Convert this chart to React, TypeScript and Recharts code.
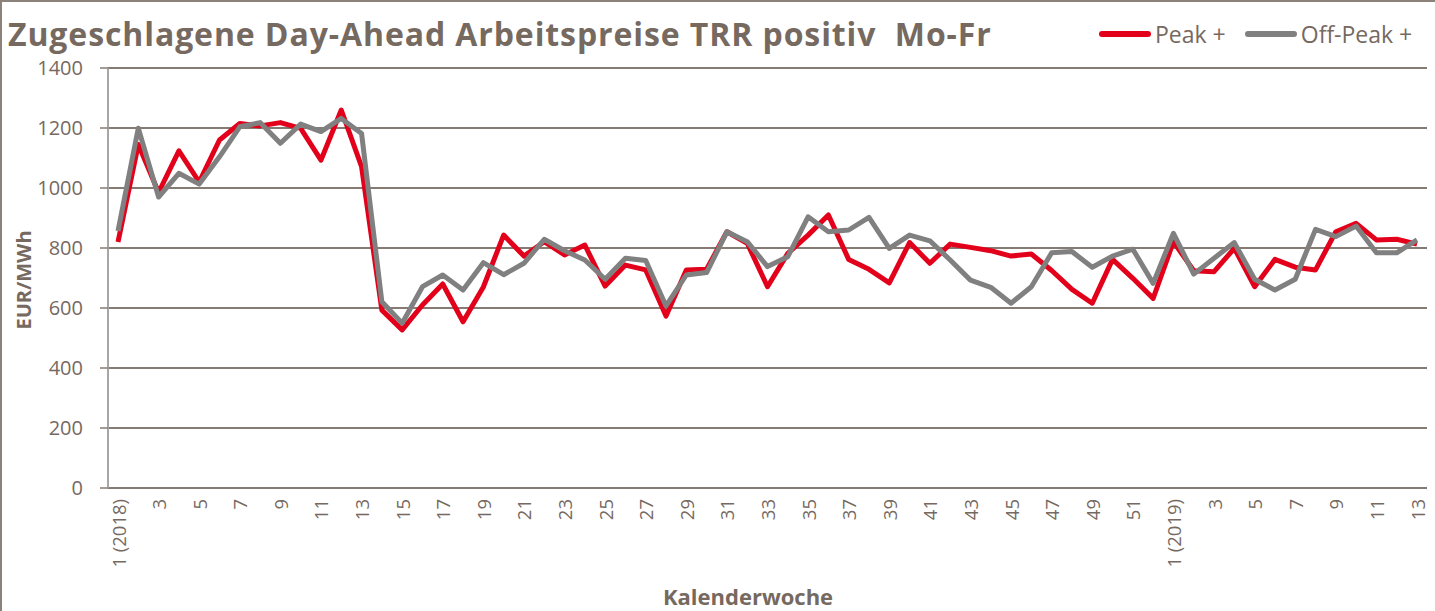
import React from "react";
import { LineChart, Line, XAxis, YAxis, CartesianGrid } from "recharts";

// Kalenderwochen 2018 / 2019
const WEEKS = [
  "1 (2018)", "2", "3", "4", "5", "6", "7", "8", "9", "10",
  "11", "12", "13", "14", "15", "16", "17", "18", "19", "20",
  "21", "22", "23", "24", "25", "26", "27", "28", "29", "30",
  "31", "32", "33", "34", "35", "36", "37", "38", "39", "40",
  "41", "42", "43", "44", "45", "46", "47", "48", "49", "50",
  "51", "52", "1 (2019)", "2", "3", "4", "5", "6", "7", "8",
  "9", "10", "11", "12", "13",
];

const PEAK = [
  820, 1145, 985, 1124, 1020, 1160, 1215, 1207, 1218, 1199,
  1093, 1260, 1071, 593, 527, 610, 680, 554, 670, 843,
  773, 821, 777, 810, 673, 743, 727, 573, 727, 729,
  854, 816, 671, 782, 843, 910, 762, 729, 684, 818,
  749, 813, 802, 791, 773, 780, 725, 662, 616, 762,
  699, 632, 821, 724, 721, 799, 671, 762, 736, 727,
  854, 882, 827, 829, 813,
];

const OFF_PEAK = [
  857, 1199, 970, 1049, 1013, 1104, 1204, 1218, 1149, 1213,
  1188, 1232, 1182, 621, 549, 671, 710, 660, 751, 711,
  749, 829, 791, 760, 696, 766, 758, 607, 710, 718,
  854, 821, 738, 771, 904, 854, 860, 902, 799, 843,
  824, 760, 693, 669, 616, 671, 784, 788, 736, 773,
  796, 682, 849, 713, 766, 818, 696, 660, 696, 862,
  838, 873, 784, 784, 827,
];

const Y_TICKS = [0, 200, 400, 600, 800, 1000, 1200, 1400];

const TEXT = "#76695f";
const GRID = "#857b73";
const RED = "#e2001a";
const GRAY = "#808080";
const FONT = "'Open Sans', sans-serif";

const data = WEEKS.map((w, i) => ({ week: w, peak: PEAK[i], offPeak: OFF_PEAK[i] }));

const XTick = (props: any) => {
  const { x, payload } = props;
  const y = 499;
  return (
    <text
      x={x}
      y={y}
      transform={`rotate(-90 ${x} ${y})`}
      textAnchor="end"
      dominantBaseline="central"
      fill={TEXT}
      fontSize={18.5}
      fontFamily={FONT}
    >
      {payload.value}
    </text>
  );
};

const LegendItem = ({ color, label, gap }: { color: string; label: string; gap: number }) => (
  <div style={{ display: "flex", alignItems: "center", marginLeft: gap }}>
    <div style={{ width: 52, height: 6, borderRadius: 3, background: color, marginRight: 4 }} />
    <span>{label}</span>
  </div>
);

export default function App() {
  return (
    <div
      style={{
        position: "absolute",
        left: 0,
        top: 0,
        width: 1435,
        height: 611,
        boxSizing: "border-box",
        borderTop: "2px solid #8c8279",
        borderLeft: "2px solid #8c8279",
        background: "#fff",
        fontFamily: FONT,
        color: TEXT,
        overflow: "hidden",
      }}
    >
      <LineChart
        width={1435}
        height={611}
        data={data}
        margin={{ top: 68, right: 8, left: 0, bottom: 0 }}
        style={{ position: "absolute", left: -2, top: -2 }}
      >
        <CartesianGrid vertical={false} stroke={GRID} strokeWidth={2} />
        <XAxis
          dataKey="week"
          interval={1}
          padding={{ left: 10, right: 10 }}
          tick={<XTick />}
          tickLine={false}
          height={123}
          axisLine={{ stroke: GRID, strokeWidth: 2 }}
        />
        <YAxis
          domain={[0, 1400]}
          ticks={Y_TICKS}
          width={108}
          tickSize={8}
          tickMargin={17}
          axisLine={{ stroke: "#a6a6a6", strokeWidth: 2 }}
          tickLine={{ stroke: GRID, strokeWidth: 1.5 }}
          tick={{ fill: TEXT, fontSize: 20, fontFamily: FONT }}
        />
        <Line
          dataKey="peak"
          stroke={RED}
          strokeWidth={5}
          dot={false}
          isAnimationActive={false}
          strokeLinejoin="round"
        />
        <Line
          dataKey="offPeak"
          stroke={GRAY}
          strokeWidth={5}
          dot={false}
          isAnimationActive={false}
          strokeLinejoin="round"
        />
      </LineChart>

      {/* Titel */}
      <div
        style={{
          position: "absolute",
          left: 6,
          top: 10,
          fontSize: 32,
          fontWeight: 700,
          letterSpacing: 0.9,
          whiteSpace: "pre",
          lineHeight: "44px",
        }}
      >
        {"Zugeschlagene Day-Ahead Arbeitspreise TRR positiv  Mo-Fr"}
      </div>

      {/* Legende */}
      <div
        style={{
          position: "absolute",
          left: 1097,
          top: 16,
          display: "flex",
          fontSize: 23,
          lineHeight: "32px",
        }}
      >
        <LegendItem color={RED} label="Peak +" gap={0} />
        <LegendItem color={GRAY} label="Off-Peak +" gap={19} />
      </div>

      {/* Achsentitel */}
      <div
        style={{
          position: "absolute",
          left: 21,
          top: 278,
          transform: "translate(-50%, -50%) rotate(-90deg)",
          fontSize: 20,
          fontWeight: 700,
          whiteSpace: "nowrap",
        }}
      >
        EUR/MWh
      </div>
      <div
        style={{
          position: "absolute",
          left: 746,
          top: 594,
          transform: "translate(-50%, -50%)",
          fontSize: 22,
          fontWeight: 700,
          whiteSpace: "nowrap",
        }}
      >
        Kalenderwoche
      </div>
    </div>
  );
}
